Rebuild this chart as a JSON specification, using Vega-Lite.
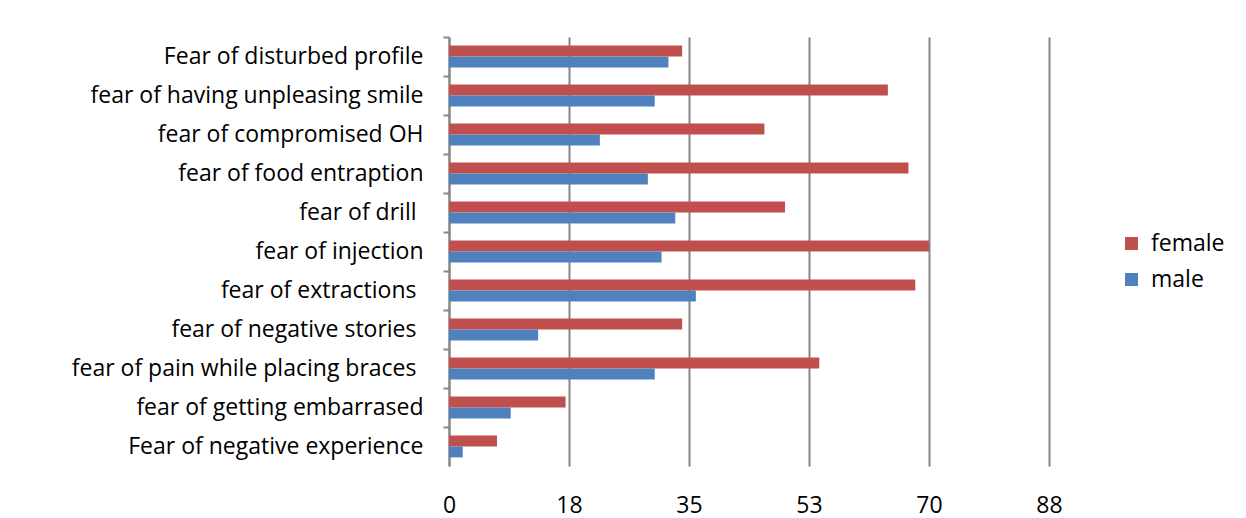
{
  "$schema": "https://vega.github.io/schema/vega-lite/v6.json",
  "autosize": {"type": "none"},
  "width": 600,
  "height": 429,
  "padding": {"left": 449, "top": 37, "right": 197, "bottom": 52},
  "background": "white",
  "data": {"values": [
    {"item": "Fear of disturbed profile", "sex": "female", "value": 34},
    {"item": "Fear of disturbed profile", "sex": "male", "value": 32},
    {"item": "fear of having unpleasing smile", "sex": "female", "value": 64},
    {"item": "fear of having unpleasing smile", "sex": "male", "value": 30},
    {"item": "fear of compromised OH", "sex": "female", "value": 46},
    {"item": "fear of compromised OH", "sex": "male", "value": 22},
    {"item": "fear of food entraption", "sex": "female", "value": 67},
    {"item": "fear of food entraption", "sex": "male", "value": 29},
    {"item": "fear of drill ", "sex": "female", "value": 49},
    {"item": "fear of drill ", "sex": "male", "value": 33},
    {"item": "fear of injection", "sex": "female", "value": 70},
    {"item": "fear of injection", "sex": "male", "value": 31},
    {"item": "fear of extractions ", "sex": "female", "value": 68},
    {"item": "fear of extractions ", "sex": "male", "value": 36},
    {"item": "fear of negative stories ", "sex": "female", "value": 34},
    {"item": "fear of negative stories ", "sex": "male", "value": 13},
    {"item": "fear of pain while placing braces ", "sex": "female", "value": 54},
    {"item": "fear of pain while placing braces ", "sex": "male", "value": 30},
    {"item": "fear of getting embarrased", "sex": "female", "value": 17},
    {"item": "fear of getting embarrased", "sex": "male", "value": 9},
    {"item": "Fear of negative experience", "sex": "female", "value": 7},
    {"item": "Fear of negative experience", "sex": "male", "value": 2}
  ]},
  "mark": {"type": "bar"},
  "encoding": {
    "y": {
      "field": "item", "type": "nominal", "sort": null,
      "scale": {"paddingInner": 0, "paddingOuter": 0},
      "axis": {
        "title": null, "bandPosition": 0,
        "domainColor": "#868686", "domainWidth": 2,
        "tickColor": "#868686", "tickWidth": 2, "tickSize": 6,
        "labelFont": "Open Sans", "labelFontSize": 23, "labelColor": "#000000",
        "labelPadding": {"condition": {"test": "slice(datum.value, -1) == ' '", "value": 27}, "value": 20},
        "labelLimit": 0, "grid": false
      }
    },
    "yOffset": {
      "field": "sex", "type": "nominal", "sort": ["female", "male"],
      "scale": {"paddingInner": 0, "paddingOuter": 0.79}
    },
    "x": {
      "field": "value", "type": "quantitative",
      "scale": {"domain": [0, 87.5], "nice": false, "zero": true},
      "axis": {
        "title": null, "values": [0, 17.5, 35, 52.5, 70, 87.5],
        "labelExpr": "round(datum.value)",
        "labelFlush": false, "labelBound": false, "labelOverlap": false,
        "domain": false, "ticks": false, "grid": true,
        "gridColor": "#868686", "gridWidth": 2, "gridOpacity": 1,
        "labelFont": "Open Sans", "labelFontSize": 23, "labelColor": "#000000",
        "labelPadding": 28
      }
    },
    "color": {
      "field": "sex", "type": "nominal",
      "scale": {"domain": ["female", "male"], "range": ["#C0504D", "#4F81BD"]},
      "legend": {
        "title": null, "orient": "none", "legendX": 671, "legendY": 195,
        "symbolType": "square", "symbolSize": 169, "symbolStrokeWidth": 0,
        "labelFont": "Open Sans", "labelFontSize": 23, "labelColor": "#000000",
        "rowPadding": 12, "labelOffset": 8
      }
    }
  },
  "config": {"view": {"stroke": null}}
}
